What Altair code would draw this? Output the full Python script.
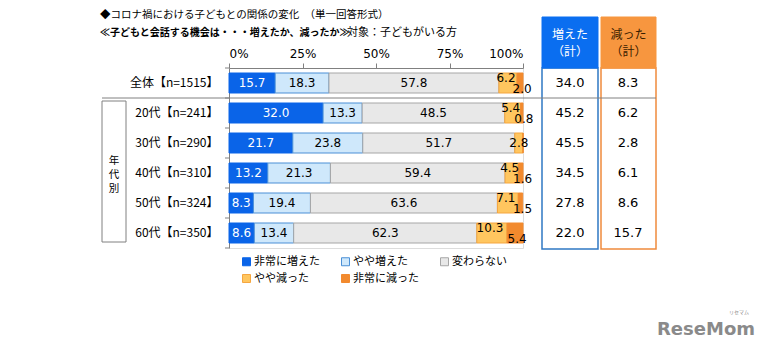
import altair as alt
import pandas as pd

categories = ["全体【n=1515】", "20代【n=241】", "30代【n=290】", "40代【n=310】", "50代【n=324】", "60代【n=350】"]
segments = ["非常に増えた", "やや増えた", "変わらない", "やや減った", "非常に減った"]
very_inc = [15.7, 32.0, 21.7, 13.2, 8.3, 8.6]
some_inc = [18.3, 13.3, 23.8, 21.3, 19.4, 13.4]
no_change = [57.8, 48.5, 51.7, 59.4, 63.6, 62.3]
some_dec = [6.2, 5.4, 2.8, 4.5, 7.1, 10.3]
very_dec = [2.0, 0.8, 0.0, 1.6, 1.5, 5.4]
inc_total = [34.0, 45.2, 45.5, 34.5, 27.8, 22.0]
dec_total = [8.3, 6.2, 2.8, 6.1, 8.6, 15.7]
x_ticks = [0, 25, 50, 75, 100]

fills = ["#0a64e8", "#cfe8fb", "#e8e8e8", "#ffc65f", "#f28a2e"]
strokes = ["#0a64e8", "#4a8fd6", "#a6a6a6", "#f5a640", "#f28a2e"]

FONT = "DejaVu Sans, Noto Sans CJK JP"
JP = "Noto Sans CJK JP"

series = [very_inc, some_inc, no_change, some_dec, very_dec]
rows = []
for i, c in enumerate(categories):
    start = 0.0
    for j, s in enumerate(segments):
        v = series[j][i]
        kind = "center"
        if j == 3 and very_dec[i] > 0:
            kind = "upper"
        if j == 4:
            kind = "lower"
        rows.append({"cat": c, "seg": s, "order": j, "start": start, "end": start + v,
                     "mid": start + v / 2, "val": v, "label": f"{v:.1f}", "kind": kind,
                     "white": j == 0})
        start += v
df = pd.DataFrame(rows)
tot = pd.DataFrame({"cat": categories, "inc": [f"{v:.1f}" for v in inc_total],
                    "dec": [f"{v:.1f}" for v in dec_total]})

ysc = alt.Scale(domain=categories, paddingInner=0, paddingOuter=0)
xsc = alt.Scale(domain=[0, 100], nice=False)

base = alt.Chart(df)

bars = base.mark_bar(size=20, strokeWidth=1).encode(
    y=alt.Y("cat:N", scale=ysc, sort=categories, title=None,
            axis=alt.Axis(ticks=False, domain=True, domainColor="#808080", labelFont=JP,
                          labelFontSize=12, labelColor="#000", labelPadding=11)),
    x=alt.X("start:Q", scale=xsc, title=None,
            axis=alt.Axis(orient="top", values=x_ticks, labelExpr="datum.value + '%'", grid=False,
                          tickSize=5, domainColor="#808080", tickColor="#808080", labelFont=FONT,
                          labelFontSize=12, labelColor="#000", labelPadding=3)),
    x2="end:Q",
    fill=alt.Fill("seg:N", scale=alt.Scale(domain=segments, range=fills), title=None,
                  legend=alt.Legend(orient="none", legendX=12, legendY=188, columns=3,
                                    direction="horizontal",
                                    gridAlign="all", columnPadding=19, rowPadding=4,
                                    symbolType="square", symbolSize=64, symbolStrokeWidth=1,
                                    labelFont=JP, labelFontSize=11, labelColor="#000",
                                    labelOffset=2)),
    stroke=alt.Stroke("seg:N", scale=alt.Scale(domain=segments, range=strokes), title=None),
    order=alt.Order("order:Q"),
)

def lbl(kind, dy, dx=0):
    return base.transform_filter(
        (alt.datum.kind == kind) & (alt.datum.val > 0)
    ).mark_text(font=FONT, fontSize=12, dy=dy, dx=dx).encode(
        y=alt.Y("cat:N", scale=ysc, sort=categories),
        x=alt.X("mid:Q", scale=xsc),
        text="label:N",
        color=alt.condition(alt.datum.white, alt.value("white"), alt.value("#000")),
    )

labels = lbl("center", 0) + lbl("upper", -5, -2) + lbl("lower", 6, 2)

tb = alt.Chart(tot)
inc_txt = tb.mark_text(font=FONT, fontSize=13, color="#000").encode(
    y=alt.Y("cat:N", scale=ysc, sort=categories), x=alt.value(341), text="inc:N")
dec_txt = tb.mark_text(font=FONT, fontSize=13, color="#000").encode(
    y=alt.Y("cat:N", scale=ysc, sort=categories), x=alt.value(399), text="dec:N")

one = pd.DataFrame({"a": [0]})
ob = alt.Chart(one)

def rect(x1, x2, y1, y2, fill, stroke, sw=1.5):
    return ob.mark_rect(fill=fill, stroke=stroke, strokeWidth=sw).encode(
        x=alt.value(x1), x2=alt.value(x2), y=alt.value(y1), y2=alt.value(y2))

def txt(t, x, y, size=12, color="#000", bold=False, align="left", font=JP, **kw):
    return ob.mark_text(text=t, fontSize=size, color=color, fontWeight="bold" if bold else "normal",
                        align=align, baseline="middle", font=font, **kw).encode(
        x=alt.value(x), y=alt.value(y))

deco = (
    rect(313, 369, 0, 181, "transparent", "#2f78c4")
    + rect(372, 427, 0, 181, "transparent", "#ef8a3c")
    + rect(313, 369, -51, 0, "#0a6ef0", "#0a6ef0", 1)
    + rect(372, 427, -51, 0, "#f7963f", "#f7963f", 1)
    + rect(-127, -103, 33, 174, "transparent", "#808080", 1)
    + ob.mark_rule(color="#808080", strokeWidth=1).encode(
        x=alt.value(-127), x2=alt.value(427), y=alt.value(30))
    + txt("増えた", 341, -33, color="white", align="center")
    + txt("（計）", 341, -16, color="white", align="center")
    + txt("減った", 399.5, -33, color="#3a2000", align="center")
    + txt("（計）", 399.5, -16, color="#3a2000", align="center")
    + txt("年", -115, 93, size=10.5, align="center")
    + txt("代", -115, 107, size=10.5, align="center")
    + txt("別", -115, 121, size=10.5, align="center")
    + txt("◆コロナ禍における子どもとの関係の変化　（単一回答形式）", -129, -53, size=10.5)
    + txt("≪子どもと会話する機会は・・・増えたか、減ったか≫", -129, -35, size=10, bold=True)
    + txt("対象：子どもがいる方", 118, -35, size=11)
    + txt("ReseMom", 477, 262, size=18, color="#8a8a8a", bold=True, align="center", font="DejaVu Sans")
    + txt("リセマム", 510, 244, size=5, color="#8a8a8a", align="center")
)

ticks_df = pd.DataFrame({"cat": categories})
yticks = alt.Chart(ticks_df).mark_rule(color="#808080").encode(
    y=alt.Y("cat:N", scale=ysc, sort=categories, bandPosition=0),
    x=alt.value(-4), x2=alt.value(0))
bottom_tick = ob.mark_rule(color="#808080").encode(x=alt.value(-4), x2=alt.value(0), y=alt.value(180))

chart = alt.layer(bars, labels, inc_txt, dec_txt, yticks, bottom_tick, deco).properties(
    width=294, height=180,
    autosize=alt.AutoSizeParams(type="none"),
    padding={"left": 229, "top": 68, "right": 244, "bottom": 108},
).configure_view(stroke=None).configure(background="white")

chart.save("out.html", embed_options={"renderer": "svg", "actions": False})
